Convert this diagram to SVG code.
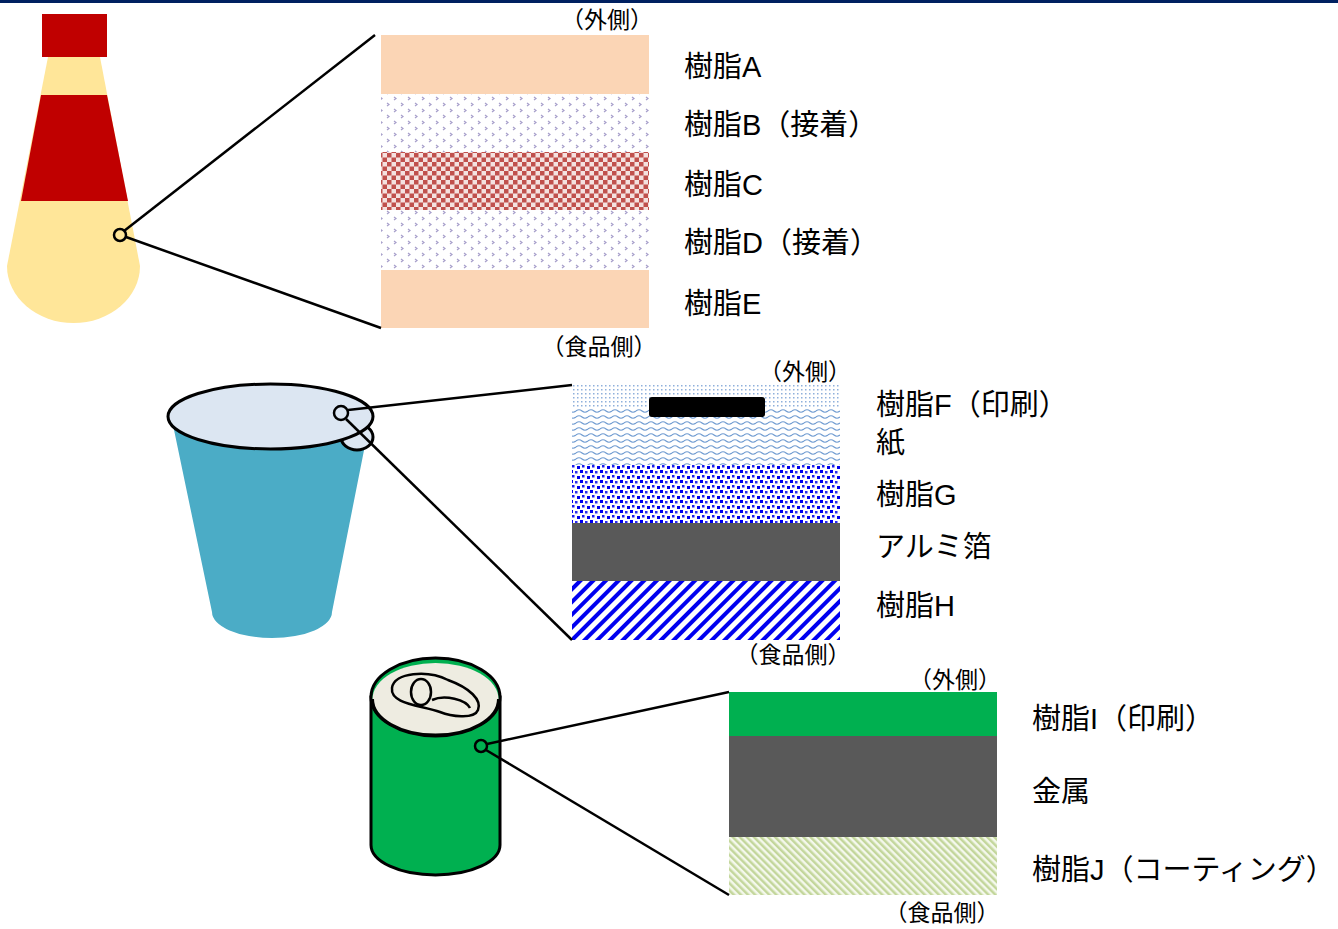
<svg xmlns="http://www.w3.org/2000/svg" width="1338" height="929" viewBox="0 0 1338 929">
  <style>
    .lbl { font-family: "Liberation Sans", "Noto Sans CJK JP", sans-serif; font-size: 29px; fill: #000; dominant-baseline: central; }
    .side { font-family: "Liberation Sans", "Noto Sans CJK JP", sans-serif; font-size: 23px; fill: #000; dominant-baseline: central; text-anchor: middle; }
    .lead { stroke: #000; stroke-width: 2.5; fill: none; }
    .ring { stroke: #000; stroke-width: 2.5; }
    .out { stroke: #000; stroke-width: 3; }
  </style>
  <defs>
    <!-- lavender speckle for adhesive resin -->
    <pattern id="speckle" width="14" height="12" patternUnits="userSpaceOnUse">
      <rect width="14" height="12" fill="#fff"/>
      <path d="M2,1 l2,1.5 l-2,1.5 M9,7 l2,1.5 l-2,1.5" stroke="#A79FCB" stroke-width="1.2" fill="none"/>
    </pattern>
    <!-- red checkerboard -->
    <pattern id="checker" width="9" height="9" patternUnits="userSpaceOnUse">
      <rect width="9" height="9" fill="#F4E1E0"/>
      <rect x="0" y="0" width="4.5" height="4.5" fill="#C0504D"/>
      <rect x="4.5" y="4.5" width="4.5" height="4.5" fill="#C0504D"/>
    </pattern>
    <!-- fine dots for print layer -->
    <pattern id="dots" width="4" height="4" patternUnits="userSpaceOnUse">
      <rect width="4" height="4" fill="#fff"/>
      <rect x="1" y="1" width="1.5" height="1.5" fill="#8FB0DB"/>
    </pattern>
    <!-- wavy lines for paper -->
    <pattern id="waves" width="12" height="6" patternUnits="userSpaceOnUse">
      <rect width="12" height="6" fill="#fff"/>
      <path d="M0,3 Q3,0.5 6,3 T12,3" stroke="#6F9BD1" stroke-width="1.2" fill="none"/>
    </pattern>
    <!-- blue grains -->
    <pattern id="grains" width="10" height="10" patternUnits="userSpaceOnUse">
      <rect width="10" height="10" fill="#fff"/>
      <rect x="0" y="0" width="3" height="3" fill="#0000EE"/>
      <rect x="5" y="1" width="2.5" height="2.5" fill="#2A2AF0"/>
      <rect x="2" y="5" width="2.5" height="2.5" fill="#1A1AF0"/>
      <rect x="7" y="6" width="3" height="3" fill="#0000EE"/>
    </pattern>
    <!-- blue diagonal stripes -->
    <pattern id="blueStripe" width="9" height="9" patternUnits="userSpaceOnUse" patternTransform="rotate(45)">
      <rect width="9" height="9" fill="#fff"/>
      <rect x="0" y="0" width="4" height="9" fill="#0000F0"/>
    </pattern>
    <!-- light green diagonal stripes -->
    <pattern id="greenStripe" width="5" height="5" patternUnits="userSpaceOnUse" patternTransform="rotate(-45)">
      <rect width="5" height="5" fill="#F4F8EC"/>
      <rect x="0" y="0" width="2.5" height="5" fill="#C3D69B"/>
    </pattern>
  </defs>

  <rect x="0" y="0" width="1338" height="3" fill="#002060"/>

  <!-- bottle -->
  <g id="bottle">
    <path d="M48,57 L100,57 L140,266 A66.5,57 0 0 1 7,266 Z" fill="#FFE699"/>
    <polygon points="41,95 107,95 128,201 21,201" fill="#C00000"/>
    <rect x="42" y="14" width="65" height="43" fill="#C00000"/>
  </g>

  <!-- cup -->
  <g id="cup">
    <path d="M173,425 L212,612 A60,26 0 0 0 332,612 L369,425 Z" fill="#4BACC6"/>
    <ellipse cx="357" cy="437" rx="16" ry="13" fill="#DCE6F2" class="out"/>
    <ellipse cx="270.5" cy="416.5" rx="102.5" ry="32.5" fill="#DCE6F2" class="out"/>
  </g>

  <!-- can -->
  <g id="can">
    <path d="M371,697 L371,845 A64.5,30 0 0 0 500,845 L500,697 Z" fill="#00B050" class="out"/>
    <ellipse cx="435.5" cy="697" rx="64.5" ry="39" fill="#00B050" class="out"/>
    <ellipse cx="435.5" cy="699" rx="63" ry="36" fill="#EEECE1"/>
    <path d="M372.5,699 A63,36 0 0 0 498.5,699" fill="none" class="out"/>
    <path d="M392,688 C394,672 428,670 448,680 C470,688 482,700 478,710 C474,720 450,716 440,712 C420,705 390,704 392,688 Z" fill="none" stroke="#000" stroke-width="2.5"/>
    <path d="M432,700 C445,694 466,700 470,708" fill="none" stroke="#000" stroke-width="2.5"/>
    <ellipse cx="421" cy="692" rx="10" ry="13" fill="#EEECE1" stroke="#000" stroke-width="2.5"/>
  </g>

  <!-- bottle film layers -->
  <g id="bottle-layers">
    <rect x="381" y="35" width="268" height="59" fill="#FBD5B5"/>
    <rect x="381" y="94" width="268" height="58" fill="url(#speckle)"/>
    <rect x="381" y="152" width="268" height="58" fill="url(#checker)"/>
    <rect x="381" y="210" width="268" height="60" fill="url(#speckle)"/>
    <rect x="381" y="270" width="268" height="58" fill="#FBD5B5"/>
    <text class="side" x="607" y="20">（外側）</text>
    <text class="side" x="599" y="347">（食品側）</text>
    <text class="lbl" x="684" y="67">樹脂A</text>
    <text class="lbl" x="684" y="125">樹脂B（接着）</text>
    <text class="lbl" x="684" y="185">樹脂C</text>
    <text class="lbl" x="684" y="243">樹脂D（接着）</text>
    <text class="lbl" x="684" y="304">樹脂E</text>
  </g>

  <!-- cup film layers -->
  <g id="cup-layers">
    <rect x="572" y="385" width="268" height="23" fill="url(#dots)"/>
    <rect x="572" y="408" width="268" height="57" fill="url(#waves)"/>
    <rect x="572" y="465" width="268" height="58" fill="url(#grains)"/>
    <rect x="572" y="523" width="268" height="58" fill="#595959"/>
    <rect x="572" y="581" width="268" height="59" fill="url(#blueStripe)"/>
    <rect x="649" y="397" width="116" height="20" rx="3" fill="#000"/>
    <text class="side" x="805" y="372">（外側）</text>
    <text class="side" x="793" y="655">（食品側）</text>
    <text class="lbl" x="876" y="405">樹脂F（印刷）</text>
    <text class="lbl" x="876" y="443">紙</text>
    <text class="lbl" x="876" y="495">樹脂G</text>
    <text class="lbl" x="876" y="547">アルミ箔</text>
    <text class="lbl" x="876" y="606">樹脂H</text>
  </g>

  <!-- can film layers -->
  <g id="can-layers">
    <rect x="729" y="692" width="268" height="44" fill="#00B050"/>
    <rect x="729" y="736" width="268" height="101" fill="#595959"/>
    <rect x="729" y="837" width="268" height="58" fill="url(#greenStripe)"/>
    <text class="side" x="955" y="680">（外側）</text>
    <text class="side" x="942" y="913">（食品側）</text>
    <text class="lbl" x="1032" y="719">樹脂I（印刷）</text>
    <text class="lbl" x="1032" y="792">金属</text>
    <text class="lbl" x="1032" y="870">樹脂J（コーティング）</text>
  </g>

  <!-- magnifier leaders -->
  <g id="connectors">
    <line class="lead" x1="124" y1="231" x2="375" y2="35"/>
    <line class="lead" x1="126" y1="237" x2="381" y2="328"/>
    <circle class="ring" cx="120" cy="235" r="6" fill="#FFE699"/>
    <line class="lead" x1="348" y1="410" x2="572" y2="385"/>
    <line class="lead" x1="346" y1="419" x2="572" y2="640"/>
    <circle class="ring" cx="341" cy="413" r="7" fill="#DCE6F2"/>
    <line class="lead" x1="487" y1="744" x2="729" y2="692"/>
    <line class="lead" x1="486" y1="750" x2="729" y2="895"/>
    <circle class="ring" cx="481" cy="746" r="6" fill="#00B050"/>
  </g>
</svg>
